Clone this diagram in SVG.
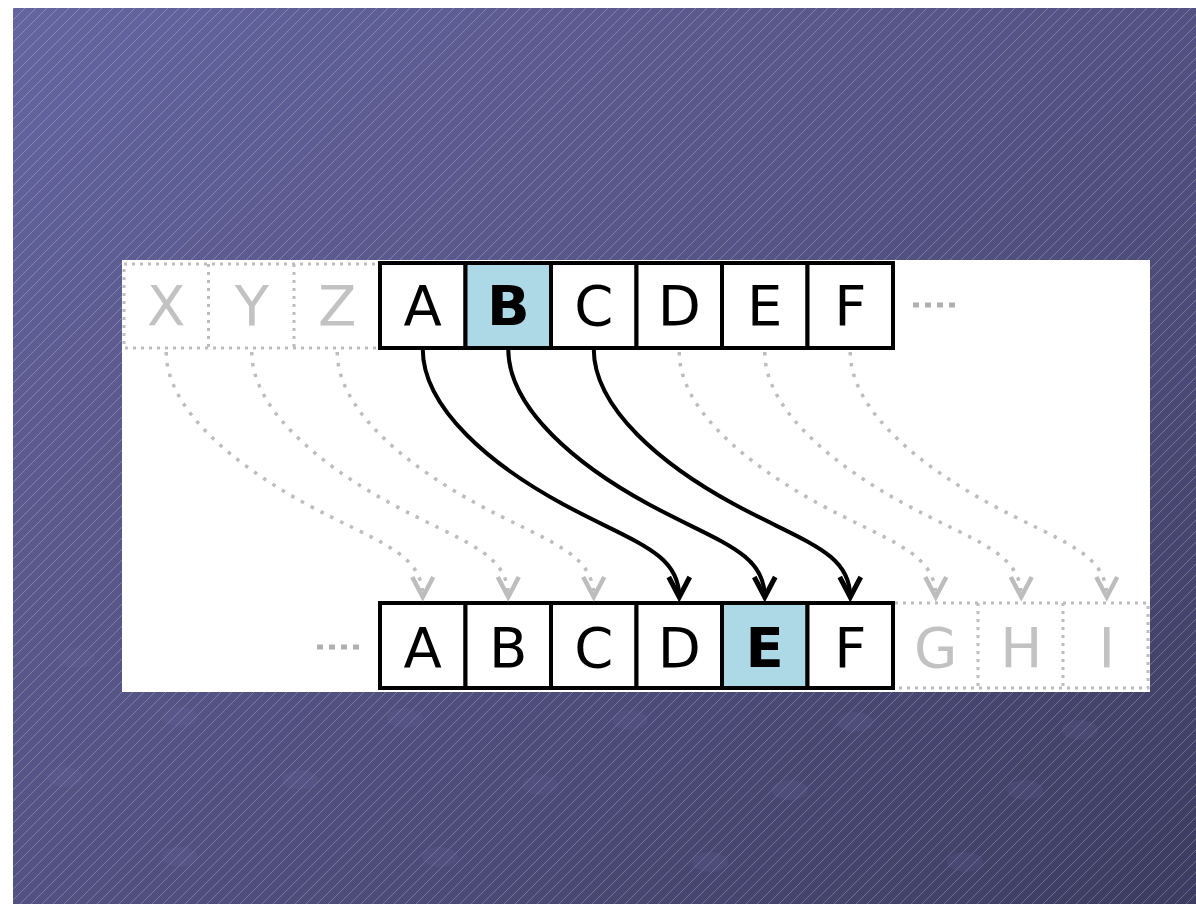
<svg xmlns="http://www.w3.org/2000/svg" width="1196" height="904" viewBox="0 0 1196 904">
<defs>
<linearGradient id="bg" x1="0" y1="0" x2="1" y2="1">
<stop offset="0" stop-color="#6464a0"/>
<stop offset="0.55" stop-color="#50507f"/>
<stop offset="1" stop-color="#3c3c62"/>
</linearGradient>
<pattern id="hatch" patternUnits="userSpaceOnUse" width="11" height="11">
<path d="M-1,1 L1,-1 M0,11 L11,0 M10,12 L12,10" stroke="#ffffff" stroke-opacity="0.3" stroke-width="0.8"/>
</pattern>
<marker id="ah" markerUnits="userSpaceOnUse" markerWidth="40" markerHeight="40" refX="0" refY="0" viewBox="-30 -20 40 40" orient="auto" overflow="visible">
<path d="M-20,-10.5 L0,0 L-20,10.5" fill="none" stroke="#000" stroke-width="5" stroke-linejoin="miter"/>
</marker>
<marker id="ahg" markerUnits="userSpaceOnUse" markerWidth="40" markerHeight="40" refX="0" refY="0" viewBox="-30 -20 40 40" orient="auto" overflow="visible">
<path d="M-20,-10.5 L0,0 L-20,10.5" fill="none" stroke="#bdbdbd" stroke-width="4.5" stroke-linejoin="miter"/>
</marker>
</defs>
<style>
.cell{fill:#ffffff;stroke:#000;stroke-width:4}
.hl{fill:#add8e6;stroke:#000;stroke-width:4}
.ghost{fill:none;stroke:#bdbdbd;stroke-width:3;stroke-dasharray:3 5}
.t{font-family:"DejaVu Sans",sans-serif;font-size:56px;text-anchor:middle;fill:#000}
.tb{font-family:"DejaVu Sans",sans-serif;font-size:56px;font-weight:bold;text-anchor:middle;fill:#000}
.tg{font-family:"DejaVu Sans",sans-serif;font-size:56px;text-anchor:middle;fill:#c2c2c2}
.dots{stroke:#b0b0b0;stroke-width:5;stroke-dasharray:6 6;fill:none}
.arr{fill:none;stroke:#000;stroke-width:4;marker-end:url(#ah)}
.garr{fill:none;stroke:#bdbdbd;stroke-width:3.5;stroke-dasharray:3.5 7.5;marker-end:url(#ahg)}
.blob{fill:#7070ad;fill-opacity:0.14}
</style>
<rect x="0" y="0" width="1196" height="904" fill="#ffffff"/>
<rect x="13" y="8" width="1183" height="896" fill="url(#bg)"/>
<rect x="13" y="8" width="1183" height="896" fill="url(#hatch)"/>
<g id="background-blobs">
<ellipse class="blob" cx="77" cy="658" rx="18" ry="10"/>
<ellipse class="blob" cx="180" cy="717" rx="18" ry="10"/>
<ellipse class="blob" cx="405" cy="718" rx="18" ry="10"/>
<ellipse class="blob" cx="630" cy="720" rx="18" ry="10"/>
<ellipse class="blob" cx="855" cy="722" rx="18" ry="10"/>
<ellipse class="blob" cx="1080" cy="730" rx="18" ry="10"/>
<ellipse class="blob" cx="65" cy="777" rx="18" ry="10"/>
<ellipse class="blob" cx="300" cy="780" rx="18" ry="10"/>
<ellipse class="blob" cx="540" cy="785" rx="18" ry="10"/>
<ellipse class="blob" cx="790" cy="790" rx="18" ry="10"/>
<ellipse class="blob" cx="1025" cy="790" rx="18" ry="10"/>
<ellipse class="blob" cx="180" cy="857" rx="18" ry="10"/>
<ellipse class="blob" cx="440" cy="857" rx="18" ry="10"/>
<ellipse class="blob" cx="710" cy="862" rx="18" ry="10"/>
<ellipse class="blob" cx="965" cy="862" rx="18" ry="10"/>
</g>
<rect id="panel" x="122" y="260" width="1028" height="432" fill="#ffffff"/>
<g id="top-ghost">
<rect class="ghost" x="124" y="264" width="256" height="84"/>
<line class="ghost" x1="208.5" y1="264" x2="208.5" y2="348"/>
<line class="ghost" x1="294" y1="264" x2="294" y2="348"/>
<text class="tg" x="166.25" y="325">X</text>
<text class="tg" x="251.75" y="325">Y</text>
<text class="tg" x="337.25" y="325">Z</text>
</g>
<g id="top-A"><rect class="cell" x="380" y="263" width="85.5" height="85"/><text class="t" x="422.75" y="325">A</text></g>
<g id="top-B"><rect class="hl" x="465.5" y="263" width="85.5" height="85"/><text class="tb" x="508.25" y="325">B</text></g>
<g id="top-C"><rect class="cell" x="551" y="263" width="85.5" height="85"/><text class="t" x="593.75" y="325">C</text></g>
<g id="top-D"><rect class="cell" x="636.5" y="263" width="85.5" height="85"/><text class="t" x="679.25" y="325">D</text></g>
<g id="top-E"><rect class="cell" x="722" y="263" width="85.5" height="85"/><text class="t" x="764.75" y="325">E</text></g>
<g id="top-F"><rect class="cell" x="807.5" y="263" width="85.5" height="85"/><text class="t" x="850.25" y="325">F</text></g>
<g id="top-more"><line class="dots" x1="913" y1="305" x2="957" y2="305"/></g>
<g id="bottom-more"><line class="dots" x1="317" y1="647" x2="361" y2="647"/></g>
<g id="bot-A"><rect class="cell" x="380" y="603" width="85.5" height="85"/><text class="t" x="422.75" y="667">A</text></g>
<g id="bot-B"><rect class="cell" x="465.5" y="603" width="85.5" height="85"/><text class="t" x="508.25" y="667">B</text></g>
<g id="bot-C"><rect class="cell" x="551" y="603" width="85.5" height="85"/><text class="t" x="593.75" y="667">C</text></g>
<g id="bot-D"><rect class="cell" x="636.5" y="603" width="85.5" height="85"/><text class="t" x="679.25" y="667">D</text></g>
<g id="bot-E"><rect class="hl" x="722" y="603" width="85.5" height="85"/><text class="tb" x="764.75" y="667">E</text></g>
<g id="bot-F"><rect class="cell" x="807.5" y="603" width="85.5" height="85"/><text class="t" x="850.25" y="667">F</text></g>
<g id="bottom-ghost">
<path class="ghost" d="M895,603 H1148 V688 H895"/>
<line class="ghost" x1="978" y1="603" x2="978" y2="688"/>
<line class="ghost" x1="1063" y1="603" x2="1063" y2="688"/>
<text class="tg" x="935.75" y="667">G</text>
<text class="tg" x="1021.25" y="667">H</text>
<text class="tg" x="1106.75" y="667">I</text>
</g>
<g id="connectors">
<path class="garr" d="M166.25,352 c0,58 70,114 140,152 c70,38 116.5,48 116.5,93"/>
<path class="garr" d="M251.75,352 c0,58 70,114 140,152 c70,38 116.5,48 116.5,93"/>
<path class="garr" d="M337.25,352 c0,58 70,114 140,152 c70,38 116.5,48 116.5,93"/>
<path class="garr" d="M679.25,352 c0,58 70,114 140,152 c70,38 116.5,48 116.5,93"/>
<path class="garr" d="M764.75,352 c0,58 70,114 140,152 c70,38 116.5,48 116.5,93"/>
<path class="garr" d="M850.25,352 c0,58 70,114 140,152 c70,38 116.5,48 116.5,93"/>
<path class="arr" d="M422.75,349 c0,60 70,117 140,155 c70,38 116.5,48 116.5,93"/>
<path class="arr" d="M508.25,349 c0,60 70,117 140,155 c70,38 116.5,48 116.5,93"/>
<path class="arr" d="M593.75,349 c0,60 70,117 140,155 c70,38 116.5,48 116.5,93"/>
</g>
</svg>
